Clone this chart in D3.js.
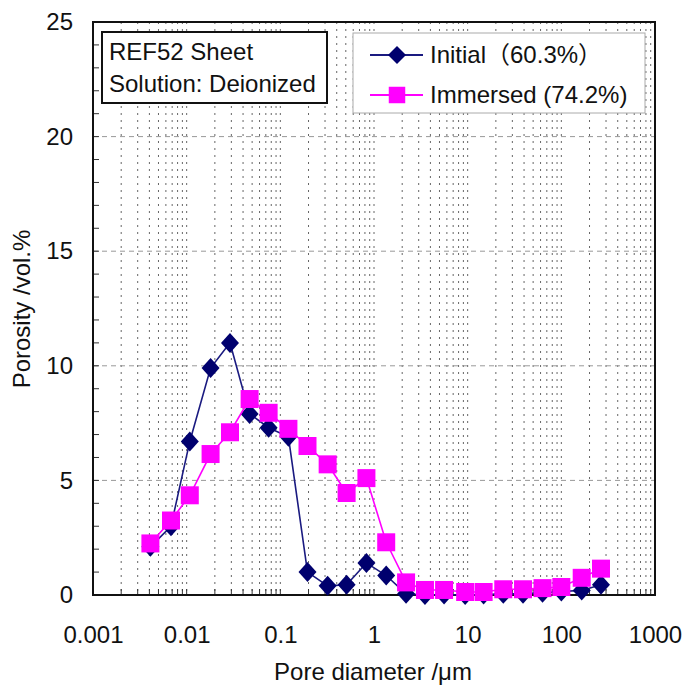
<!DOCTYPE html>
<html>
<head>
<meta charset="utf-8">
<script src="https://d3js.org/d3.v7.min.js"></script>
<style>
  body { margin: 0; background: #fff; }
  text { font-family: "Liberation Sans", Arial, "Noto Sans CJK JP", sans-serif; }
</style>
</head>
<body>
<div id="chart"></div>
<script>
// DATA
const diameters = [0.0041, 0.0068, 0.0108, 0.018, 0.029, 0.047, 0.075, 0.122, 0.195, 0.32,
  0.51, 0.83, 1.35, 2.2, 3.5, 5.6, 9.4, 14.8, 24, 39, 63, 100, 165, 265];
const initial = [2.1, 3.0, 6.7, 9.9, 11.0, 7.9, 7.3, 6.9, 1.0, 0.4,
  0.45, 1.4, 0.85, 0.05, 0.0, 0.02, 0.0, 0.02, 0.05, 0.05, 0.1, 0.15, 0.2, 0.45];
const immersed = [2.25, 3.25, 4.35, 6.15, 7.1, 8.55, 7.95, 7.25, 6.5, 5.7,
  4.45, 5.1, 2.3, 0.55, 0.22, 0.22, 0.13, 0.13, 0.25, 0.25, 0.3, 0.35, 0.75, 1.15];
const xTicks = [0.001, 0.01, 0.1, 1, 10, 100, 1000];
const xTickLabels = ["0.001", "0.01", "0.1", "1", "10", "100", "1000"];
const yTicks = [0, 5, 10, 15, 20, 25];
const seriesNames = ["Initial\uFF0860.3%\uFF09", "Immersed (74.2%)"];
const noteLines = ["REF52 Sheet", "Solution: Deionized"];

const W = 683, H = 688;
const x = d3.scaleLog().domain([0.001, 1000]).range([93, 655]);
const y = d3.scaleLinear().domain([0, 25]).range([595, 22]);

const svg = d3.select("#chart").append("svg")
  .attr("width", W).attr("height", H);

// minor log positions
const minor = [];
for (let e = -3; e < 3; e++) {
  for (let k = 1; k <= 9; k++) minor.push(k * Math.pow(10, e));
}
minor.push(1000);

// vertical dotted grid
svg.append("g").selectAll("line").data(minor.filter(v => v > 0.001 && v < 1000)).enter()
  .append("line")
  .attr("x1", d => x(d)).attr("x2", d => x(d))
  .attr("y1", y(25)).attr("y2", y(0))
  .attr("stroke", "#666").attr("stroke-width", 1)
  .attr("stroke-dasharray", "2,5");

// horizontal dashed grid
svg.append("g").selectAll("line").data([5, 10, 15, 20]).enter()
  .append("line")
  .attr("x1", x(0.001)).attr("x2", x(1000))
  .attr("y1", d => y(d)).attr("y2", d => y(d))
  .attr("stroke", "#999").attr("stroke-width", 1)
  .attr("stroke-dasharray", "5,4");

// inner minor ticks on left
svg.append("g").selectAll("line").data(d3.range(1, 25)).enter()
  .append("line")
  .attr("x1", x(0.001)).attr("x2", x(0.001) + 6)
  .attr("y1", d => y(d)).attr("y2", d => y(d))
  .attr("stroke", "#333");

// inner ticks at bottom
svg.append("g").selectAll("line").data(minor).enter()
  .append("line")
  .attr("x1", d => x(d)).attr("x2", d => x(d))
  .attr("y1", y(0)).attr("y2", y(0) - 6)
  .attr("stroke", "#333");

// axes labels
const xAxis = svg.append("g")
  .attr("transform", "translate(0," + y(0) + ")")
  .call(d3.axisBottom(x).tickValues(xTicks).tickFormat((d, i) => xTickLabels[i]).tickSize(0));
xAxis.select(".domain").remove();
xAxis.selectAll("text").attr("font-size", 24).attr("fill", "#111")
  .attr("y", 48).attr("dy", null);

const yAxis = svg.append("g")
  .attr("transform", "translate(" + x(0.001) + ",0)")
  .call(d3.axisLeft(y).tickValues(yTicks).tickSize(0).tickPadding(20));
yAxis.select(".domain").remove();
yAxis.selectAll("text").attr("font-size", 24).attr("fill", "#111");

// plot frame
svg.append("rect")
  .attr("x", x(0.001)).attr("y", y(25))
  .attr("width", x(1000) - x(0.001)).attr("height", y(0) - y(25))
  .attr("fill", "none").attr("stroke", "#111").attr("stroke-width", 2);

// axis titles
svg.append("text")
  .attr("x", 373).attr("y", 680)
  .attr("text-anchor", "middle").attr("font-size", 24).attr("fill", "#111")
  .text("Pore diameter /\u03BCm");
svg.append("text")
  .attr("transform", "translate(30,309) rotate(-90)")
  .attr("text-anchor", "middle").attr("font-size", 24).attr("fill", "#111")
  .text("Porosity /vol.%");

// series
const diamond = "M0,-10L9,0L0,10L-9,0Z";
const square = d3.symbol().type(d3.symbolSquare).size(324);
const line = d3.line().x(d => x(d[0])).y(d => y(d[1]));

const ptsInit = diameters.map((d, i) => [d, initial[i]]);
const ptsImm = diameters.map((d, i) => [d, immersed[i]]);

svg.append("path").datum(ptsInit).attr("d", line)
  .attr("fill", "none").attr("stroke", "#1a1a80").attr("stroke-width", 1.6);
svg.append("g").selectAll("path").data(ptsInit).enter().append("path")
  .attr("d", diamond)
  .attr("transform", d => "translate(" + x(d[0]) + "," + y(d[1]) + ")")
  .attr("fill", "#00006e");

svg.append("path").datum(ptsImm).attr("d", line)
  .attr("fill", "none").attr("stroke", "#ff00ff").attr("stroke-width", 1.6);
svg.append("g").selectAll("path").data(ptsImm).enter().append("path")
  .attr("d", square)
  .attr("transform", d => "translate(" + x(d[0]) + "," + y(d[1]) + ")")
  .attr("fill", "#ff00ff");

// note box
svg.append("rect")
  .attr("x", 102).attr("y", 32).attr("width", 225).attr("height", 71)
  .attr("fill", "#fff").attr("stroke", "#111").attr("stroke-width", 2);
svg.append("g").selectAll("text").data(noteLines).enter().append("text")
  .attr("x", 109).attr("y", (d, i) => 60 + i * 32)
  .attr("font-size", 24).attr("fill", "#111")
  .text(d => d);

// legend
svg.append("rect")
  .attr("x", 353).attr("y", 33).attr("width", 292).attr("height", 80)
  .attr("fill", "#fff").attr("stroke", "#aaa").attr("stroke-width", 1);
const leg = svg.append("g");
[0, 1].forEach(i => {
  const ly = 55 + i * 40;
  leg.append("line")
    .attr("x1", 370).attr("x2", 423).attr("y1", ly).attr("y2", ly)
    .attr("stroke", i === 0 ? "#1a1a80" : "#ff00ff").attr("stroke-width", 2);
  leg.append("path")
    .attr("d", i === 0 ? "M0,-9L9,0L0,9L-9,0Z" : d3.symbol().type(d3.symbolSquare).size(272)())
    .attr("transform", "translate(397," + ly + ")")
    .attr("fill", i === 0 ? "#00006e" : "#ff00ff");
  leg.append("text")
    .attr("x", 430).attr("y", ly + 8)
    .attr("font-size", 24).attr("fill", "#111")
    .text(seriesNames[i]);
});
</script>
</body>
</html>
